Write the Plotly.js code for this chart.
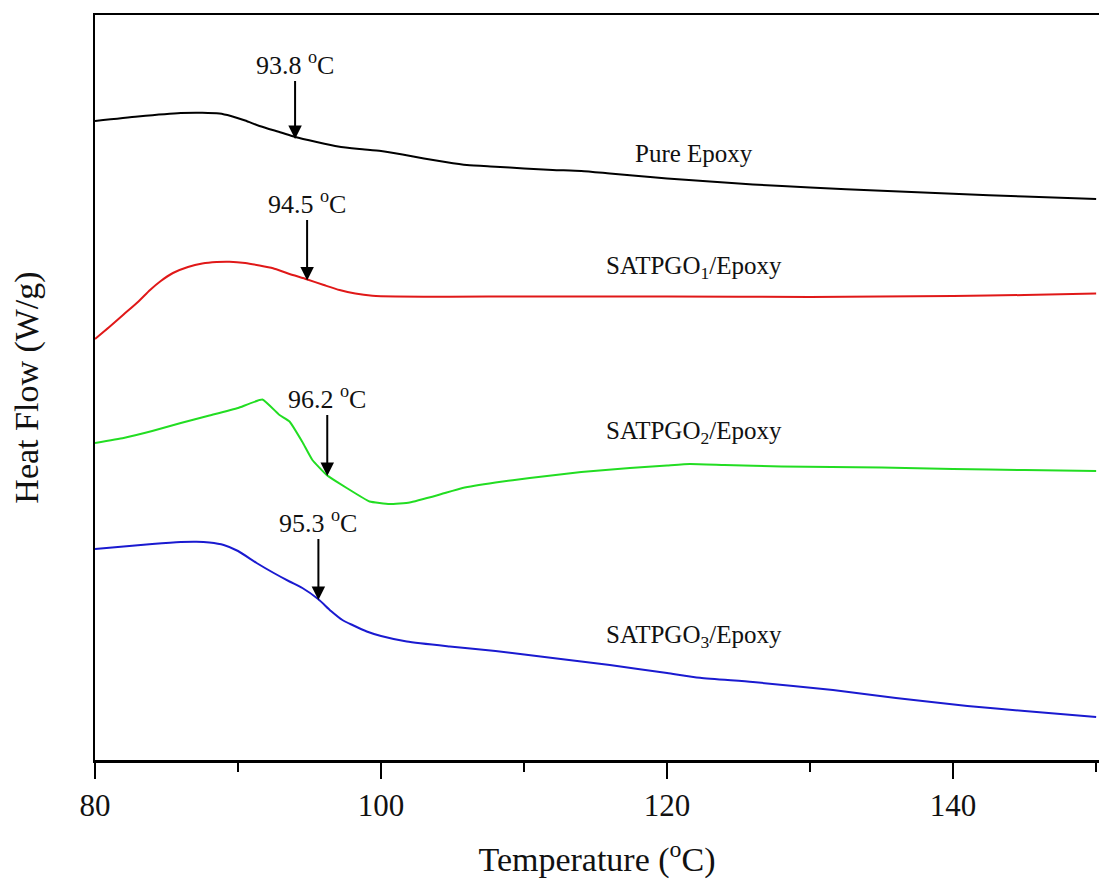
<!DOCTYPE html>
<html>
<head>
<meta charset="utf-8">
<script src="https://cdn.plot.ly/plotly-3.0.1.min.js"></script>
<style>html,body{margin:0;padding:0;background:#fff;}#chart{width:1099px;height:886px;}</style>
</head>
<body>
<div id="chart"></div>
<script>
// Temperature (°C) and heat flow (arbitrary offset units) for each sample
const tempPure = [80,83,86,87.5,88.7,89.5,90.5,91.5,93,94,95.5,97,98.5,100,101.5,103,104.5,106,108,110,112,114,116,118,120,123,126,130,135,140,145,150];
const flowPure = [63.90,64.35,64.70,64.73,64.65,64.40,63.95,63.40,62.75,62.30,61.80,61.35,61.10,60.90,60.55,60.15,59.80,59.50,59.33,59.15,59.00,58.90,58.65,58.40,58.15,57.85,57.55,57.25,56.92,56.62,56.35,56.10];

const tempGO1 = [80,81,82,83,83.85,84.6,85.45,86.5,87.5,88.5,89.4,90.5,91.5,92.45,93.5,94.8,96,97.1,98.2,99.4,101,104.8,110,120,130,140,145,150];
const flowGO1 = [42.10,43.30,44.55,45.80,47.00,47.90,48.70,49.30,49.65,49.80,49.83,49.70,49.45,49.17,48.65,48.07,47.50,47.00,46.65,46.43,46.35,46.33,46.35,46.35,46.30,46.40,46.50,46.65];

const tempGO2 = [80,82,84,86,88,90,91.7,92.9,93.6,94.5,95.2,96.2,97.6,99.2,100.6,102,104,105.7,108,110.4,114,117.4,120,121.6,124,128,135,140,145,150];
const flowGO2 = [31.70,32.20,32.90,33.70,34.45,35.20,36.05,34.50,33.85,31.80,30.00,28.50,27.20,25.85,25.60,25.75,26.50,27.20,27.75,28.20,28.80,29.20,29.45,29.60,29.50,29.35,29.25,29.10,29.00,28.90];

const tempGO3 = [80,82,84,86,87.1,88,89,90,91.3,92.5,93.6,94.5,95.6,96.5,97.3,98,99,100,101.8,104.8,108,112,116,120,122.3,126,131.6,136,141,145,150];
const flowGO3 = [21.10,21.35,21.60,21.80,21.83,21.75,21.50,20.90,19.70,18.70,17.85,17.20,16.10,14.90,14.00,13.50,12.85,12.40,11.85,11.35,10.90,10.20,9.50,8.70,8.23,7.80,7.00,6.20,5.40,4.90,4.30];

const seriesNames = ["Pure Epoxy","SATPGO<sub>1</sub>/Epoxy","SATPGO<sub>2</sub>/Epoxy","SATPGO<sub>3</sub>/Epoxy"];
const seriesColors = ["#000000","#e01818","#22dd22","#1a1ad0"];
const seriesSmoothing = [0.6,0.6,0.35,0.6];

// Glass transition markers: label, arrow x, arrow tip y, arrow tail y
const tgLabels = ["93.8","94.5","96.2","95.3"];
const tgArrowX = [93.99,94.83,96.24,95.62];
const tgTipY = [62.10,47.95,28.40,16.00];
const tgTailY = [67.90,54.00,34.50,22.10];

// Curve name labels
const nameX = [121.9,121.9,121.9,121.9];
const nameY = [60.7,49.3,32.8,12.4];

const temps = [tempPure,tempGO1,tempGO2,tempGO3];
const flows = [flowPure,flowGO1,flowGO2,flowGO3];

const FONT = "Liberation Serif, Times New Roman, serif";

const traces = temps.map((t,i)=>({
  x: t, y: flows[i], type:'scatter', mode:'lines',
  line:{color:seriesColors[i], width:2, shape:'spline', smoothing:seriesSmoothing[i]},
  name: seriesNames[i], hoverinfo:'skip'
}));

const annotations = [];
for (let i=0;i<4;i++){
  annotations.push({
    x: tgArrowX[i], y: tgTipY[i], xref:'x', yref:'y',
    ax: tgArrowX[i], ay: tgTailY[i], axref:'x', ayref:'y',
    text: tgLabels[i] + ' <sup>o</sup>C', showarrow:true,
    arrowhead:2, arrowsize:1.35, arrowwidth:2, arrowcolor:'#000',
    xanchor:'center', yanchor:'bottom', borderpad:0,
    font:{family:FONT, size:26, color:'#111'}
  });
  annotations.push({
    x: nameX[i], y: nameY[i], xref:'x', yref:'y',
    text: seriesNames[i], showarrow:false,
    font:{family:FONT, size:25, color:'#111'}, xanchor:'center', yanchor:'middle'
  });
}

const layout = {
  width:1099, height:886,
  margin:{l:95, r:0, t:15, b:126},
  paper_bgcolor:'#fff', plot_bgcolor:'#fff',
  showlegend:false,
  font:{family:FONT, color:'#111'},
  xaxis:{
    range:[80,150.2], showgrid:false, zeroline:false,
    showline:true, linecolor:'#000', linewidth:2.5, mirror:true,
    ticks:'outside', ticklen:16, tickwidth:2.5, tickcolor:'#000',
    tickvals:[80,100,120,140], ticktext:['80','100','120','140'],
    minor:{tickvals:[90,110,130,150], ticks:'outside', ticklen:9, tickwidth:2.5, tickcolor:'#000', showgrid:false},
    tickfont:{family:FONT, size:31, color:'#111'},
    title:{text:'Temperature (<sup>o</sup>C)', font:{family:FONT, size:34, color:'#111'}, standoff:26}
  },
  yaxis:{
    range:[0,74.5], showgrid:false, zeroline:false,
    showline:true, linecolor:'#000', linewidth:2.5, mirror:false,
    ticks:'', showticklabels:false,
    title:{text:'Heat Flow (W/g)', font:{family:FONT, size:34, color:'#111'}, standoff:44}
  },
  annotations: annotations
};

Plotly.newPlot('chart', traces, layout, {displayModeBar:false, staticPlot:true});
</script>
</body>
</html>
